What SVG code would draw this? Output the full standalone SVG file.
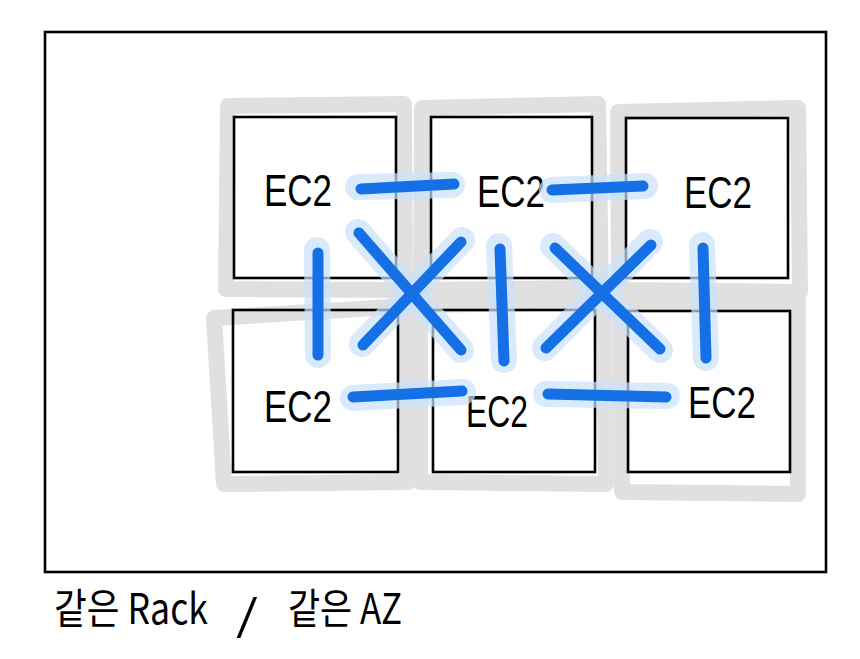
<svg xmlns="http://www.w3.org/2000/svg" width="860" height="659" viewBox="0 0 860 659">
<style>
.halo{fill:none;stroke:#e0e0e0;stroke-width:16;stroke-linejoin:round;stroke-linecap:round}
.box{fill:none;stroke:#000;stroke-width:2.6}
.lbl{font-family:"Liberation Sans","Noto Sans",sans-serif;font-size:44px;fill:#000;text-anchor:middle}
.bh{fill:none;stroke:#c9e1fb;stroke-width:26;stroke-linecap:round;opacity:0.7}
.bl{fill:none;stroke:#1570e6;stroke-width:11;stroke-linecap:round}
.cap{font-family:"Noto Sans CJK KR","Noto Sans",sans-serif;font-size:42px;fill:#000}
</style>
<rect width="860" height="659" fill="#fff"/>
<rect x="45" y="32" width="781" height="540" fill="none" stroke="#000" stroke-width="2.6"/>

<g id="node-tl">
<path class="halo" d="M228 106 L404 104 L405 290 L226 289 Z"/>
<rect class="box" x="234" y="117" width="162" height="161"/>
<text class="lbl" x="298" y="206" textLength="68" lengthAdjust="spacingAndGlyphs">EC2</text>
</g>
<g id="node-tm">
<path class="halo" d="M422 108 L598 104 L601 288 L421 290 Z"/>
<rect class="box" x="431" y="117" width="161" height="161"/>
<text class="lbl" x="511" y="207" textLength="68" lengthAdjust="spacingAndGlyphs">EC2</text>
</g>
<g id="node-tr">
<path class="halo" d="M618 112 L798 108 L800 292 L619 290 Z"/>
<rect class="box" x="626" y="118" width="162" height="160"/>
<text class="lbl" x="718" y="208" textLength="68" lengthAdjust="spacingAndGlyphs">EC2</text>
</g>
<g id="node-bl">
<path class="halo" d="M214 318 L406 306 L408 482 L224 484 Z"/>
<rect class="box" x="233" y="310" width="165" height="162"/>
<text class="lbl" x="298" y="422" textLength="68" lengthAdjust="spacingAndGlyphs">EC2</text>
</g>
<g id="node-bm">
<path class="halo" d="M420 305 L604 302 L606 484 L420 482 Z"/>
<rect class="box" x="433" y="310" width="162" height="162"/>
<text class="lbl" x="497" y="427" textLength="62" lengthAdjust="spacingAndGlyphs">EC2</text>
</g>
<g id="node-br">
<path class="halo" d="M620 302 L798 302 L798 494 L622 492 Z"/>
<rect class="box" x="628" y="311" width="162" height="161"/>
<text class="lbl" x="722" y="418" textLength="68" lengthAdjust="spacingAndGlyphs">EC2</text>
</g>

<g id="connectors">
<path class="bh" d="M358 187 L452 185"/>
<path class="bh" d="M552 190 L645 186"/>
<path class="bh" d="M353 398 L463 392"/>
<path class="bh" d="M546 394 L667 396"/>
<path class="bh" d="M317 250 L318 355"/>
<path class="bh" d="M499 246 L504 360"/>
<path class="bh" d="M702 245 L706 358"/>
<path class="bh" d="M358 232 L461 350"/>
<path class="bh" d="M462 240 L362 344"/>
<path class="bh" d="M553 246 L660 350"/>
<path class="bh" d="M650 242 L545 348"/>
<path class="bl" d="M361 189 L454 184"/>
<path class="bl" d="M552 190 L643 186"/>
<path class="bl" d="M353 397 L462 391"/>
<path class="bl" d="M548 394 L666 397"/>
<path class="bl" d="M318 253 L318 355"/>
<path class="bl" d="M500 249 L504 361"/>
<path class="bl" d="M703 248 L706 358"/>
<path class="bl" d="M359 233 L461 350"/>
<path class="bl" d="M461 242 L363 345"/>
<path class="bl" d="M555 248 L660 349"/>
<path class="bl" d="M651 245 L546 348"/>
</g>

<g id="caption">
<text class="cap" x="54" y="624" textLength="154" lengthAdjust="spacingAndGlyphs">같은 Rack</text>
<text class="cap" x="236" y="630" textLength="22" lengthAdjust="spacingAndGlyphs">/</text>
<text class="cap" x="288" y="624" textLength="114" lengthAdjust="spacingAndGlyphs">같은 AZ</text>
</g>
</svg>
